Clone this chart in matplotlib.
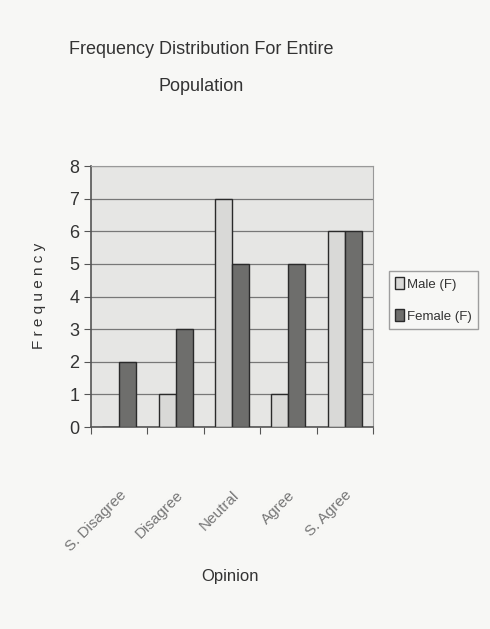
import numpy as np
import matplotlib
matplotlib.use('Agg')
import matplotlib.pyplot as plt

plt.rcParams['font.family'] = ['Liberation Sans Narrow', 'Liberation Sans', 'DejaVu Sans']

categories = ['S. Disagree', 'Disagree', 'Neutral', 'Agree', 'S. Agree']
male = [0, 1, 7, 1, 6]
female = [2, 3, 5, 5, 6]
series_names = ['Male (F)', 'Female (F)']

text_color = '#333333'

fig = plt.figure(figsize=(4.9, 6.29), dpi=100, facecolor='#f7f7f5')
ax = fig.add_axes([0.186, 0.321, 0.575, 0.415])
ax.set_facecolor('#e6e6e4')

x = np.arange(len(categories))
w = 0.3
ax.bar(x - w / 2, male, w, color='#d9d9d7', edgecolor='#2a2a2a', linewidth=1.0,
       label=series_names[0], zorder=3)
ax.bar(x + w / 2, female, w, color='#6e6e6c', edgecolor='#2a2a2a', linewidth=1.0,
       label=series_names[1], zorder=3)

ax.set_xlim(-0.5, len(categories) - 0.5)
ax.set_ylim(0, 8)
ax.set_yticks(range(0, 9))
ax.yaxis.grid(True, color='#777777', linewidth=0.9, zorder=1)
ax.set_axisbelow(True)

ax.set_xticks(np.arange(-0.5, len(categories), 1))
ax.set_xticklabels([])
ax.set_xticks(x, minor=True)
ax.set_xticklabels(categories, minor=True, rotation=45, ha='right',
                   rotation_mode='anchor', fontsize=11, color='#777777')
ax.tick_params(axis='x', which='minor', length=0, pad=44)
ax.tick_params(axis='x', which='major', length=5, color='#555555')
ax.tick_params(axis='y', length=5, color='#555555', labelsize=13, labelcolor=text_color)

for s in ['top', 'right']:
    ax.spines[s].set_color('#999999')
for s in ['left', 'bottom']:
    ax.spines[s].set_color('#555555')
    ax.spines[s].set_linewidth(1.2)

fig.text(0.41, 0.921, 'Frequency Distribution For Entire', ha='center', va='center',
         fontsize=13, color=text_color)
fig.text(0.41, 0.862, 'Population', ha='center', va='center',
         fontsize=13, color=text_color)
fig.text(0.08, 0.53, 'F r e q u e n c y', rotation=90, ha='center', va='center',
         fontsize=11, color=text_color)
fig.text(0.47, 0.083, 'Opinion', ha='center', va='center', fontsize=12, color=text_color)

leg = fig.legend(loc='center left', bbox_to_anchor=(0.793, 0.523), fontsize=9.5,
                 frameon=True, fancybox=False, edgecolor='#888888',
                 handlelength=0.7, handleheight=1.0, handletextpad=0.2,
                 labelspacing=1.4, borderpad=0.5, borderaxespad=0)
leg.get_frame().set_facecolor('#f7f7f5')
for t in leg.get_texts():
    t.set_color(text_color)

fig.savefig('out.png', dpi=100, facecolor=fig.get_facecolor())
